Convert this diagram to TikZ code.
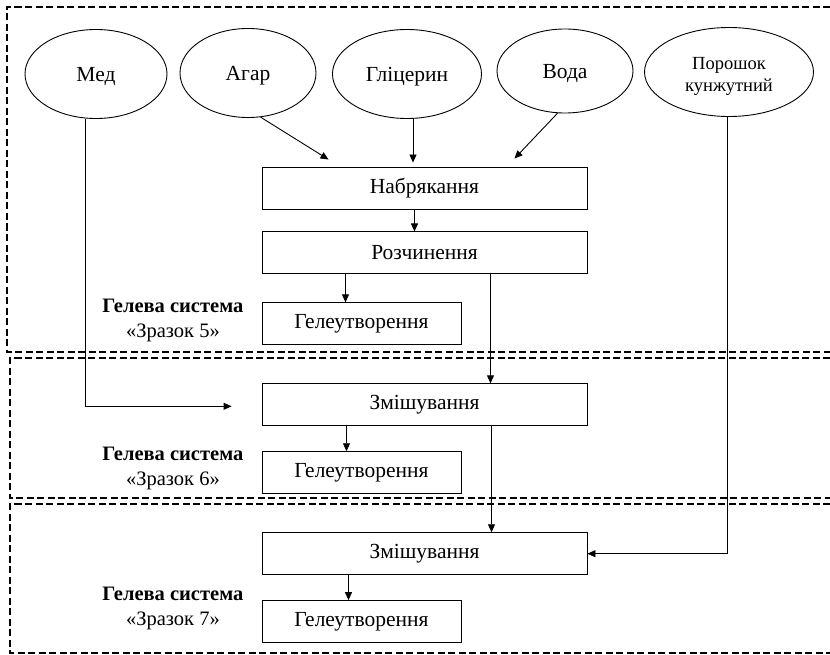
\documentclass[tikz,border=0pt]{standalone}
\usepackage{fontspec}
\setmainfont{Liberation Serif}
\usetikzlibrary{shapes.geometric, arrows.meta, positioning}
\tikzset{
  ingr/.style={ellipse, draw, line width=0.9pt, align=center, inner sep=0pt,
               minimum height=89pt, text height=18pt, text depth=3pt,
               font=\fontsize{21.5}{25}\selectfont},
  stage/.style={rectangle, draw, line width=0.9pt, align=center, inner sep=0pt,
                minimum height=42pt, minimum width=325pt,
                font=\fontsize{21.5}{25}\selectfont},
  gelbox/.style={stage, minimum width=199pt},
  note/.style={align=center, inner sep=0pt, font=\fontsize{20.5}{25}\selectfont},
  zone/.style={dash pattern=on 7pt off 3.5pt, line width=1.6pt},
  arrow/.style={-{Triangle[length=8pt, width=7pt]}, line width=0.9pt},
}

\begin{document}
\begin{tikzpicture}[x=1pt, y=-1pt]
  \useasboundingbox (0,0) rectangle (830,655);

  % Dashed zones
  \draw[zone] (830,7) -| (7,352) -- (830,352);
  \draw[zone] (830,358) -| (10,498) -- (830,498);
  \draw[zone] (830,504) -| (10,653) -- (830,653);

  % Ingredients
  \node[ingr, minimum width=142pt] (med)  at (96,74)  {Мед};
  \node[ingr, minimum width=136pt] (agar) at (248,73) {Агар};
  \node[ingr, minimum width=149pt] (glic) at (407,74) {Гліцерин};
  \node[ingr, minimum width=136pt, minimum height=84pt] (voda) at (565,71) {Вода};
  \node[ingr, minimum width=169pt, text height=44pt, text depth=4pt,
        font=\fontsize{18.5}{22}\selectfont] (poros)
    at (729,72) {Порошок\\кунжутний};

  % Stages
  \node[stage] (nabr) at (424.5,188) {Набрякання};
  \node[stage, below=22pt of nabr] (rozch) {Розчинення};
  \node[gelbox, below=28pt of rozch.south west, anchor=north west] (gel5) {Гелеутворення};
  \node[stage, below=109pt of rozch] (mix1) {Змішування};
  \node[gelbox, below=25pt of mix1.south west, anchor=north west] (gel6) {Гелеутворення};
  \node[stage, below=106pt of mix1] (mix2) {Змішування};
  \node[gelbox, below=25pt of mix2.south west, anchor=north west] (gel7) {Гелеутворення};

  % Samples
  \node[note, left=18pt of gel5, yshift=3pt]  (lab5) {\textbf{Гелева система}\\«Зразок 5»};
  \node[note, left=18pt of gel6, yshift=4pt]  (lab6) {\textbf{Гелева система}\\«Зразок 6»};
  \node[note, left=18pt of gel7, yshift=13pt] (lab7) {\textbf{Гелева система}\\«Зразок 7»};

  % Arrows in
  \draw[arrow] (agar.-74) -- ([xshift=-96pt, yshift=7pt]nabr.north);
  \draw[arrow, shorten >=4pt] ([xshift=6pt]glic.south) -- ([xshift=6pt]glic.south |- nabr.north);
  \draw[arrow] (voda.-100) -- ([xshift=90pt, yshift=8pt]nabr.north);
  \draw[arrow] ([xshift=-11pt]med.south) |- ([xshift=-30pt, yshift=-1.5pt]mix1.west);
  \draw[arrow] ([xshift=-2pt]poros.south) |- (mix2.east);

  % Arrows between stages
  \draw[arrow] ([xshift=-10pt]nabr.south) -- ([xshift=-10pt]rozch.north);
  \draw[arrow] ([xshift=-16pt]gel5.north |- rozch.south) -- ([xshift=-16pt]gel5.north);
  \draw[arrow] ([xshift=66pt]rozch.south) -- ([xshift=66pt]mix1.north);
  \draw[arrow] ([xshift=-15pt]gel6.north |- mix1.south) -- ([xshift=-15pt]gel6.north);
  \draw[arrow] ([xshift=67pt]mix1.south) -- ([xshift=67pt]mix2.north);
  \draw[arrow] ([xshift=-13pt]gel7.north |- mix2.south) -- ([xshift=-13pt]gel7.north);
\end{tikzpicture}
\end{document}
